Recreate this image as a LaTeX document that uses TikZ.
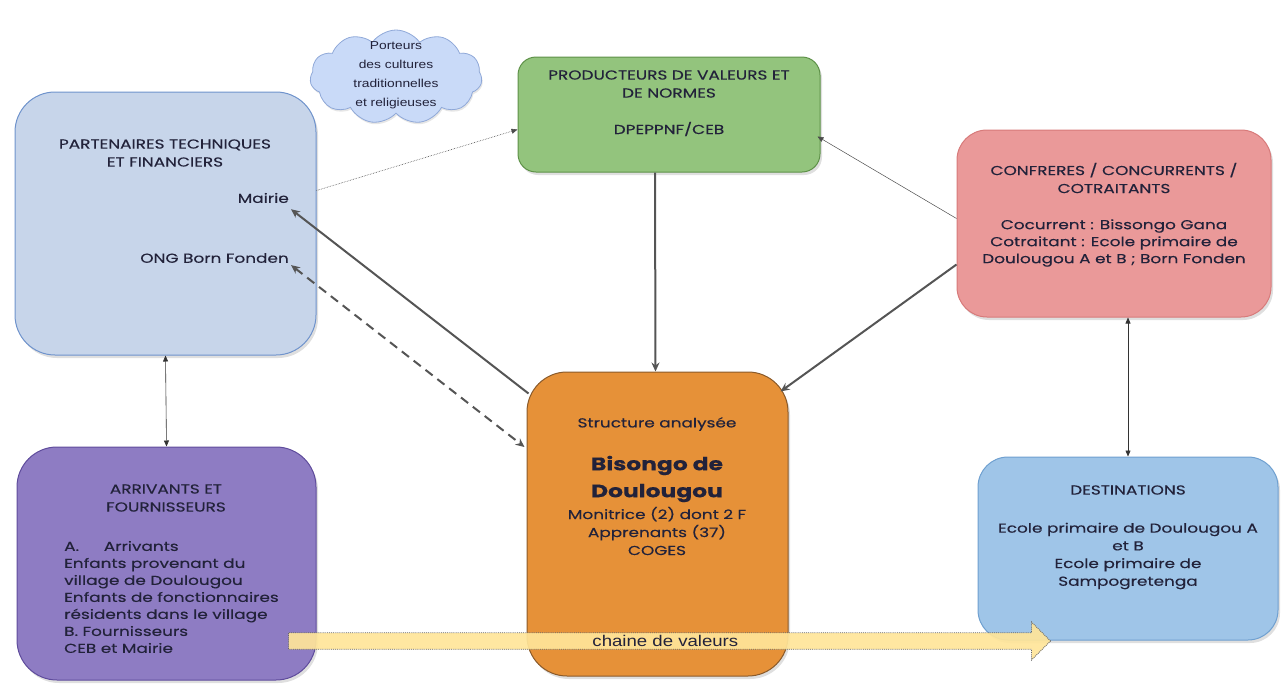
\documentclass[tikz,border=0pt]{standalone}
\usepackage{fontspec}
\setmainfont{Poppins}[FakeStretch=1.3,FakeBold=0.3]
\newfontfamily\arialf{Liberation Sans}[FakeStretch=1.2]
\usetikzlibrary{shapes.symbols,shapes.arrows,shadows,arrows.meta,calc}
\definecolor{ptf}{HTML}{C7D5EA}
\definecolor{ptfb}{HTML}{6F93CC}
\definecolor{grn}{HTML}{93C47D}
\definecolor{grnb}{HTML}{5E9148}
\definecolor{red}{HTML}{EA9999}
\definecolor{redb}{HTML}{D77A7A}
\definecolor{pur}{HTML}{8E7CC3}
\definecolor{purb}{HTML}{5F4C9C}
\definecolor{org}{HTML}{E69138}
\definecolor{orgb}{HTML}{8A5A2A}
\definecolor{blu}{HTML}{9FC5E8}
\definecolor{blub}{HTML}{6FA0D0}
\definecolor{cld}{HTML}{C9DAF8}
\definecolor{cldb}{HTML}{8FA8D8}
\definecolor{txt}{HTML}{22223A}
\definecolor{con}{HTML}{555555}
\definecolor{yel}{HTML}{FFE599}
\begin{document}
\begin{tikzpicture}[x=1pt,y=-1pt,
  box/.style={draw=#1,line width=1pt,align=center,text=txt,inner sep=0pt,
    drop shadow={shadow xshift=2pt,shadow yshift=-3pt,opacity=0.25}},
  lbl/.style={text=txt,inner sep=0pt,font=\fontsize{13}{18}\selectfont},
  thin/.style={draw=black!80,line width=0.6pt,-{Triangle[length=6pt,width=5pt]}},
  thick/.style={draw=con,line width=2pt,-{Stealth[length=9pt,width=8pt]}},
  ]
\useasboundingbox (0,0) rectangle (1283,686);
% boxes
\node[box=ptfb,fill=ptf,rounded corners=40pt,minimum width=301pt,minimum height=263pt] (ptf) at (165.5,223.5) {};
\node[lbl,align=center] (ptft) at (165,153) {PARTENAIRES TECHNIQUES\\ET FINANCIERS};
\node[lbl,anchor=east] (mairie) at (289,198) {Mairie};
\node[lbl,anchor=east] (ong) at (289,258) {ONG Born Fonden};

\node[cloud,cloud puffs=11,cloud puff arc=110,aspect=1.8,draw=cldb,fill=cld,line width=0.8pt,
  minimum width=172pt,minimum height=94pt,inner sep=0pt,
  drop shadow={shadow xshift=1pt,shadow yshift=-2pt,opacity=0.2}] (cloud) at (396,77) {};
\node[align=center,inner sep=0pt,text=txt,font=\arialf\fontsize{11.5}{19}\selectfont] (cloudt) at (396,75) {Porteurs\\des cultures\\traditionnelles\\et religieuses};

\node[box=grnb,fill=grn,rounded corners=18pt,minimum width=302pt,minimum height=115pt] (grn) at (669,114.5) {};
\node[lbl,align=center] (grnt) at (669,84) {PRODUCTEURS DE VALEURS ET\\DE NORMES};
\node[lbl] (grnt2) at (669,129) {DPEPPNF/CEB};

\node[box=redb,fill=red,rounded corners=30pt,minimum width=314pt,minimum height=187pt] (red) at (1114,223.5) {};
\node[lbl,align=center] (redt) at (1114,178) {CONFRERES / CONCURRENTS /\\COTRAITANTS};
\node[lbl,align=center,font=\fontsize{13}{17}\selectfont] (redt2) at (1114,243) {Cocurrent : Bissongo Gana\\Cotraitant : Ecole primaire de\\Doulougou A et B ; Born Fonden};

\node[box=purb,fill=pur,rounded corners=40pt,minimum width=299pt,minimum height=233pt] (pur) at (166.5,563.5) {};
\node[lbl,align=center] (purt) at (166,498) {ARRIVANTS ET\\FOURNISSEURS};
\node[lbl,align=left,anchor=west,font=\fontsize{13}{17}\selectfont] (purt2) at (64,597) {A.\hspace{1.9em}Arrivants\\Enfants provenant du\\village de Doulougou\\Enfants de fonctionnaires\\résidents dans le village\\B. Fournisseurs\\CEB et Mairie};

\node[box=orgb,fill=org,rounded corners=40pt,minimum width=261pt,minimum height=304pt] (org) at (657.5,524) {};
\node[lbl] (orgt) at (657,424) {Structure analysée};
\node[text=txt,inner sep=0pt,align=center,font=\fontsize{18}{27}\selectfont\bfseries] (orgt2) at (657,479) {Bisongo de\\Doulougou};
\node[text=txt,inner sep=0pt,align=center,font=\fontsize{13}{18}\selectfont] (orgt3) at (657,531) {Monitrice (2) dont 2 F\\Apprenants (37)\\COGES};

\node[box=blub,fill=blu,rounded corners=30pt,minimum width=300pt,minimum height=183pt] (blu) at (1128,548.5) {};
\node[lbl] (blut) at (1128,490) {DESTINATIONS};
\node[lbl,align=center,font=\fontsize{13}{17.7}\selectfont] (blut2) at (1128,556) {Ecole primaire de Doulougou A\\et B\\Ecole primaire de\\Sampogretenga};

% value chain arrow
\node[single arrow,draw=black!60,densely dotted,line width=0.9pt,fill=yel,fill opacity=0.92,text opacity=1,
  minimum height=762pt,minimum width=38pt,single arrow head extend=8pt,
  single arrow head indent=0pt,inner sep=0pt,anchor=west,
  text=txt,font=\arialf\fontsize{15.5}{17}\selectfont] (chain) at (288,641) {chaine de valeurs};

% connectors
\draw[thin,densely dotted,draw=black!70] ($(ptf.east)+(0,-33)$) -- ($(grn.west)+(0,15)$);
\draw[thin,draw=black!70,line width=0.5pt] ($(red.west)+(0,-5)$) -- ($(grn.south east)+(-3,-36)$);
\draw[thick] ($(grn.south)+(-14,0)$) -- ($(org.north)+(-2,0)$);
\draw[thick] ($(org.north west)+(2,22)$) -- ($(mairie.south east)+(2,6)$);
\draw[thick,dashed,dash pattern=on 9pt off 6pt,{Stealth[length=9pt,width=8pt]}-{Stealth[length=9pt,width=8pt]}] ($(ong.south east)+(2,2)$) -- ($(org.west)+(-2,-77)$);
\draw[thick] ($(red.west)+(0,41)$) -- ($(org.north east)+(-8,20)$);
\draw[thin,{Triangle[length=6pt,width=5pt]}-{Triangle[length=6pt,width=5pt]}] (ptf.south) -- (pur.north);
\draw[thin,{Triangle[length=6pt,width=5pt]}-{Triangle[length=6pt,width=5pt]}] ($(red.south)+(14,0)$) -- (blu.north);
\end{tikzpicture}
\end{document}
